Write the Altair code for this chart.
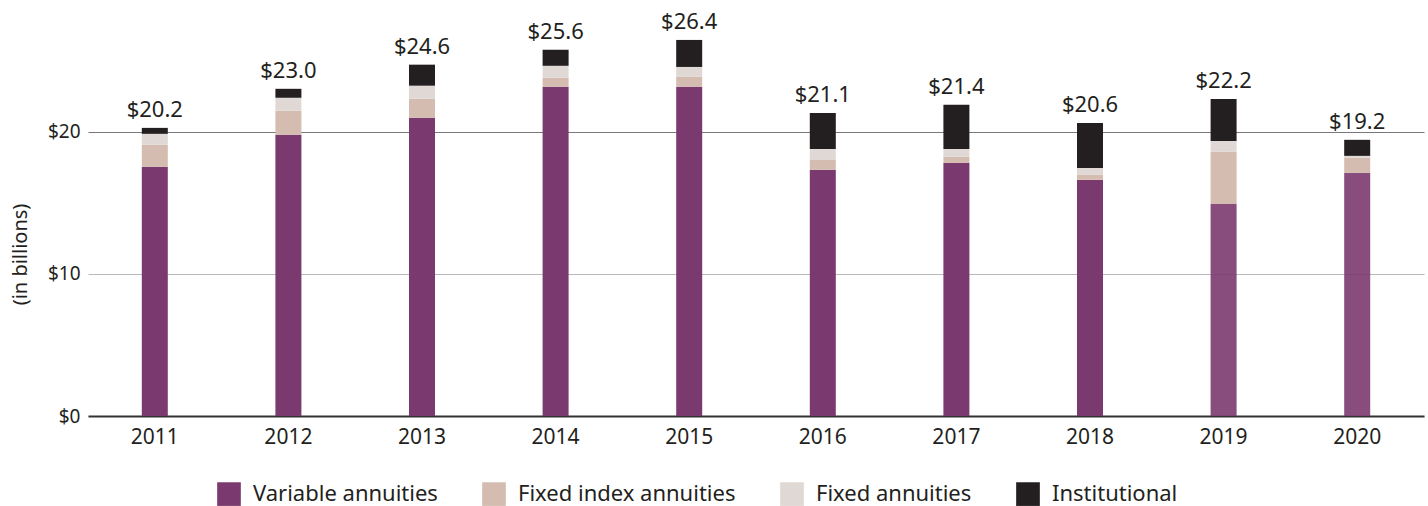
import altair as alt
import pandas as pd

years = ["2011", "2012", "2013", "2014", "2015", "2016", "2017", "2018", "2019", "2020"]
variable = [17.54, 19.79, 20.99, 23.17, 23.17, 17.32, 17.82, 16.62, 14.93, 17.11]
fixed_index = [1.55, 1.69, 1.34, 0.63, 0.70, 0.70, 0.42, 0.35, 3.66, 1.06]
fixed = [0.77, 0.92, 0.92, 0.85, 0.70, 0.77, 0.56, 0.49, 0.77, 0.14]
institutional = [0.42, 0.63, 1.48, 1.13, 1.90, 2.54, 3.10, 3.17, 2.96, 1.13]
total_labels = ["$20.2", "$23.0", "$24.6", "$25.6", "$26.4", "$21.1", "$21.4", "$20.6", "$22.2", "$19.2"]

series_names = ["Variable annuities", "Fixed index annuities", "Fixed annuities", "Institutional"]
series_colors = ["#7B3A6F", "#D4BDB0", "#E0D8D4", "#231F20"]

FONT = "Noto Sans"
INK = "#231F20"

rows = []
for i, yr in enumerate(years):
    for k, (name, vals) in enumerate(zip(series_names, [variable, fixed_index, fixed, institutional])):
        rows.append({"year": yr, "yr": int(yr), "series": name, "value": vals[i], "order": k})
df = pd.DataFrame(rows)

tops = pd.DataFrame({
    "year": years,
    "top": [variable[i] + fixed_index[i] + fixed[i] + institutional[i] for i in range(len(years))],
    "label": total_labels,
})

x_enc = alt.X(
    "year:N",
    sort=years,
    scale=alt.Scale(paddingInner=0, paddingOuter=0),
    axis=alt.Axis(
        title=None, labelAngle=0, ticks=False, tickSize=0, grid=False,
        domain=True, domainColor="#333333", domainWidth=2,
        labelFont=FONT, labelFontSize=21, labelPadding=10, labelColor=INK,
    ),
)

y_enc = alt.Y(
    "value:Q",
    stack="zero",
    scale=alt.Scale(domain=[0, 29], nice=False, zero=True),
    axis=alt.Axis(
        values=[0, 10, 20],
        labelExpr="'$' + datum.value",
        title="(in billions)",
        titleFont=FONT, titleFontSize=20, titleFontWeight="normal", titleColor=INK,
        titleAngle=270, titleX=-68, titleY=250, titleAlign="center", titleBaseline="middle",
        domain=False, ticks=False, tickSize=0,
        labelFont=FONT, labelFontSize=19, labelPadding=8, labelColor=INK,
        grid=True,
        gridColor={"condition": {"test": "datum.value === 20", "value": "#7a767d"}, "value": "#b8b8bb"},
        gridWidth=1.2,
    ),
)

bars = alt.Chart(df).mark_bar(size=26).encode(
    x=x_enc,
    y=y_enc,
    color=alt.Color(
        "series:N",
        scale=alt.Scale(domain=series_names, range=series_colors),
        legend=alt.Legend(
            title=None, orient="none", legendX=129, legendY=478, direction="horizontal",
            symbolType="square", symbolSize=560, symbolStrokeWidth=0, symbolOpacity=1,
            labelFont=FONT, labelFontSize=22, labelColor=INK, labelOffset=12, labelLimit=0,
            columnPadding=44, padding=0, columns=4,
        ),
    ),
    order=alt.Order("order:Q", sort="ascending"),
    opacity=alt.condition(
        "datum.yr >= 2019 && datum.series == 'Variable annuities'",
        alt.value(0.9),
        alt.value(1.0),
    ),
)

labels = alt.Chart(tops).mark_text(
    dy=-11, baseline="alphabetic", align="center", font=FONT, fontSize=22, color=INK
).encode(
    x=alt.X("year:N", sort=years),
    y=alt.Y("top:Q"),
    text="label:N",
)

chart = alt.layer(bars, labels).properties(
    width=1336,
    height=412,
    padding={"left": 88, "top": 4, "right": 4, "bottom": 90},
    autosize=alt.AutoSizeParams(type="none"),
).configure(background="white").configure_view(stroke=None, strokeWidth=0)

chart.save("out.html", embed_options={"renderer": "svg", "actions": False})
